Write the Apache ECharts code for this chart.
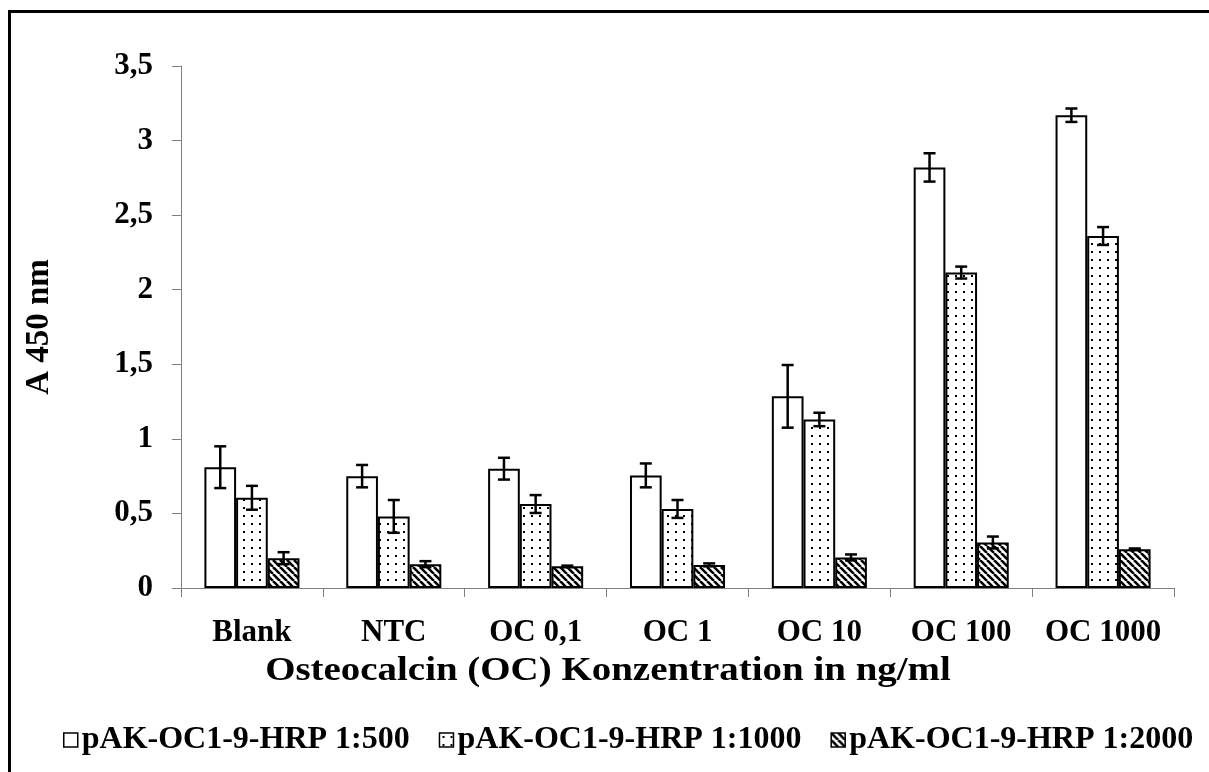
<!DOCTYPE html>
<html>
<head>
<meta charset="utf-8">
<script src="https://cdn.jsdelivr.net/npm/echarts@6/dist/echarts.min.js"></script>
<style>
  html, body { margin: 0; padding: 0; background: #fff; }
  #chart { width: 1209px; height: 772px; }
</style>
</head>
<body>
<div id="chart"></div>
<script>
// Absorbance at 450 nm for each osteocalcin concentration and antibody dilution
const categories = ['Blank', 'NTC', 'OC 0,1', 'OC 1', 'OC 10', 'OC 100', 'OC 1000'];
const seriesNames = ['pAK-OC1-9-HRP 1:500', 'pAK-OC1-9-HRP 1:1000', 'pAK-OC1-9-HRP 1:2000'];
const xTitle = 'Osteocalcin (OC) Konzentration in ng/ml';
const yTitle = 'A 450 nm';

const values500  = [0.81, 0.75, 0.80, 0.755, 1.285, 2.82, 3.17];
const values1000 = [0.605, 0.48, 0.563, 0.53, 1.13, 2.115, 2.36];
const values2000 = [0.20, 0.16, 0.145, 0.155, 0.205, 0.305, 0.26];

// standard deviations (error bars)
const sd500  = [0.14, 0.075, 0.073, 0.08, 0.21, 0.095, 0.045];
const sd1000 = [0.08, 0.11, 0.06, 0.06, 0.045, 0.04, 0.06];
const sd2000 = [0.04, 0.02, 0.005, 0.01, 0.02, 0.04, 0.005];

const yTicks = { min: 0, max: 3.5, interval: 0.5 };

const FONT = 'Liberation Serif';
const LABEL_SIZE = 31;
const CATEGORY_GAP = 0.33;

function dotPattern() {
  const c = document.createElement('canvas');
  c.width = 8; c.height = 8;
  const g = c.getContext('2d');
  g.fillStyle = '#fff'; g.fillRect(0, 0, 8, 8);
  g.fillStyle = '#000'; g.fillRect(3, 3, 2, 2);
  return { image: c, repeat: 'repeat' };
}

function hatchPattern() {
  const n = 7;
  const c = document.createElement('canvas');
  c.width = n; c.height = n;
  const g = c.getContext('2d');
  g.fillStyle = '#fff'; g.fillRect(0, 0, n, n);
  g.strokeStyle = '#000'; g.lineWidth = 2.6;
  g.beginPath();
  for (let k = -1; k <= 1; k++) {
    g.moveTo(k * n, 0); g.lineTo(k * n + n, n);
  }
  g.stroke();
  return { image: c, repeat: 'repeat' };
}

const fills = ['#fff', dotPattern(), hatchPattern()];
const valueSets = [values500, values1000, values2000];
const sdSets = [sd500, sd1000, sd2000];

const barSeries = seriesNames.map((name, i) => ({
  name: name,
  type: 'bar',
  data: valueSets[i],
  barGap: '0%',
  barCategoryGap: (CATEGORY_GAP * 100) + '%',
  itemStyle: { color: fills[i], borderColor: '#000', borderWidth: 2 },
  emphasis: { disabled: true },
  z: 2
}));

const errorSeries = seriesNames.map((name, i) => ({
  type: 'custom',
  name: name + ' SD',
  z: 5,
  silent: true,
  data: valueSets[i].map((v, j) => [j, v - sdSets[i][j], v + sdSets[i][j]]),
  renderItem: function (params, api) {
    const cat = api.value(0);
    const lo = api.coord([cat, api.value(1)]);
    const hi = api.coord([cat, api.value(2)]);
    const band = api.size([1, 0])[0];
    const barW = band * (1 - CATEGORY_GAP) / 3;
    const x = lo[0] + (i - 1) * barW;
    const cap = 6;
    const style = { stroke: '#000', lineWidth: 2.5 };
    return {
      type: 'group',
      children: [
        { type: 'line', shape: { x1: x, y1: lo[1], x2: x, y2: hi[1] }, style: style },
        { type: 'line', shape: { x1: x - cap, y1: hi[1], x2: x + cap, y2: hi[1] }, style: style },
        { type: 'line', shape: { x1: x - cap, y1: lo[1], x2: x + cap, y2: lo[1] }, style: style }
      ]
    };
  }
}));

const chart = echarts.init(document.getElementById('chart'), null, { renderer: 'canvas' });

chart.setOption({
  backgroundColor: '#fff',
  animation: false,
  textStyle: { fontFamily: FONT, fontWeight: 'bold', color: '#000' },
  grid: { left: 181, right: 35, top: 66, bottom: 184, containLabel: false },
  xAxis: {
    type: 'category',
    data: categories,
    axisLine: { lineStyle: { color: '#808080', width: 1 } },
    axisTick: { show: true, length: 9, lineStyle: { color: '#808080' } },
    axisLabel: { fontFamily: FONT, fontWeight: 'bold', fontSize: LABEL_SIZE, color: '#000', margin: 29, interval: 0 }
  },
  yAxis: {
    type: 'value',
    min: yTicks.min,
    max: yTicks.max,
    interval: yTicks.interval,
    name: yTitle,
    nameLocation: 'middle',
    nameGap: 125,
    nameRotate: 90,
    nameTextStyle: { fontFamily: FONT, fontWeight: 'bold', fontSize: 33, color: '#000' },
    axisLine: { show: true, lineStyle: { color: '#808080', width: 1 } },
    axisTick: { show: true, length: 9, lineStyle: { color: '#808080' } },
    splitLine: { show: false },
    axisLabel: {
      fontFamily: FONT, fontWeight: 'bold', fontSize: LABEL_SIZE, color: '#000', margin: 28,
      formatter: v => String(v).replace('.', ',')
    }
  },
  legend: {
    data: seriesNames,
    top: 719,
    left: 58,
    icon: 'rect',
    itemWidth: 14,
    itemHeight: 14,
    itemGap: 29,
    selectedMode: false,
    itemStyle: { borderColor: '#000', borderWidth: 1.5 },
    textStyle: { fontFamily: FONT, fontWeight: 'bold', fontSize: 32, color: '#000', padding: [0, 0, 0, -1] }
  },
  graphic: [
    {
      // chart frame
      type: 'rect',
      shape: { x: 9.5, y: 11.5, width: 1230, height: 800 },
      style: { fill: 'none', stroke: '#000', lineWidth: 3 },
      silent: true
    },
    {
      // category axis title, set in a slightly wide face
      type: 'text',
      x: 608,
      y: 671,
      scaleX: 1.18,
      silent: true,
      style: {
        text: xTitle,
        fill: '#000',
        font: 'bold 33px "Liberation Serif"',
        align: 'center',
        verticalAlign: 'middle'
      }
    }
  ],
  series: barSeries.concat(errorSeries)
});
</script>
</body>
</html>
